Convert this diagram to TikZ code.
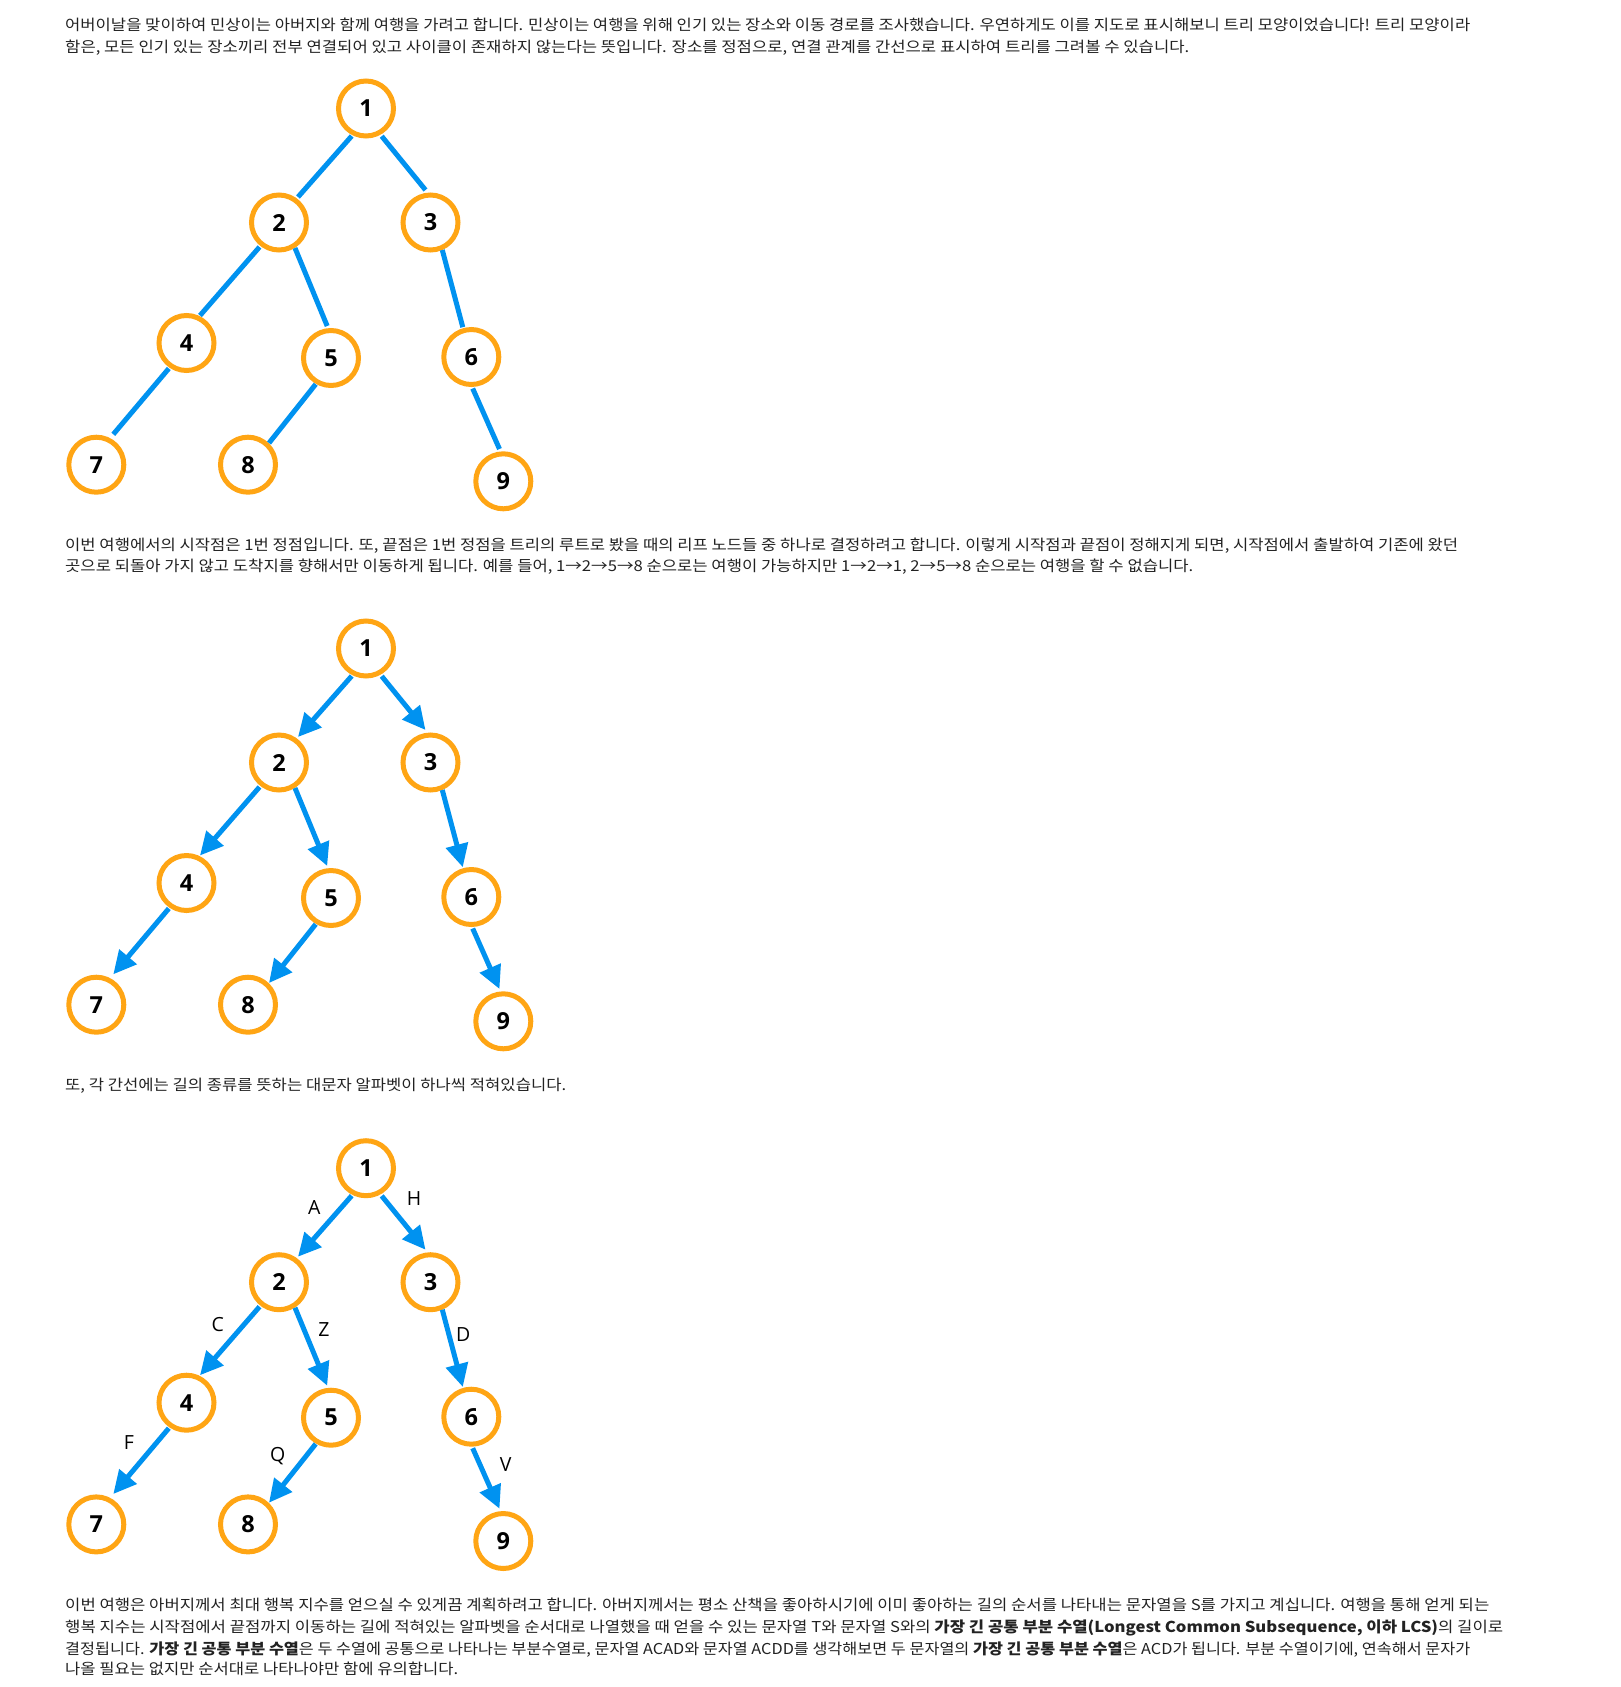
\documentclass[tikz,border=0pt]{standalone}
\usepackage{fontspec}
\usepackage{graphicx}
\usetikzlibrary{arrows.meta,calc}
\setmainfont{Noto Sans CJK KR}
\newfontfamily\numfont{Open Sans}
\definecolor{nodeorange}{RGB}{255,165,20}
\definecolor{edgeblue}{RGB}{0,146,240}
\definecolor{txtcol}{RGB}{34,34,34}
\tikzset{
  vtx/.style={circle, draw=nodeorange, line width=5pt, minimum size=55pt, inner sep=0pt, fill=white, text=black, font=\numfont\bfseries\fontsize{23.5}{23.5}\selectfont},
  plainedge/.style={draw=edgeblue, line width=5pt},
  arrowedge/.style={draw=edgeblue, line width=5pt, -{Triangle[length=23pt,width=22pt]}},
  elabel/.style={inner sep=0pt, text=black, font=\numfont\fontsize{19.5}{19.5}\selectfont},
  txtline/.style={anchor=base west, inner sep=0pt, text=txtcol, font=\fontsize{15}{15}\selectfont}
}
\newcommand\mytree[3]{%
  \begin{scope}[shift={(0,#2)}]
    \node[vtx] (#1v1) at (366,108.5) {1};
    \node[vtx] (#1v2) at (279,222.5) {2};
    \node[vtx] (#1v3) at (430.5,222.5) {3};
    \node[vtx] (#1v4) at (186.5,343) {4};
    \node[vtx] (#1v5) at (331,358) {5};
    \node[vtx] (#1v6) at (471.3,357) {6};
    \node[vtx] (#1v7) at (96.3,464.7) {7};
    \node[vtx] (#1v8) at (248,464.7) {8};
    \node[vtx] (#1v9) at (503.3,481.3) {9};
    \draw[#3] ($(#1v1)+(-14.3,27.5)$) -- ($(#1v2)+(19,-25.5)$);
    \draw[#3] ($(#1v1)+(15.7,27.7)$) -- ($(#1v3)+(-5,-32.5)$);
    \draw[#3] ($(#1v2)+(-19.5,24.5)$) -- ($(#1v4)+(13.5,-27.5)$);
    \draw[#3] ($(#1v2)+(16,25.5)$) -- ($(#1v5)+(-3.8,-32)$);
    \draw[#3] ($(#1v3)+(11.8,27.5)$) -- ($(#1v6)+(-8.5,-29.8)$);
    \draw[#3] ($(#1v4)+(-17.7,25.5)$) -- ($(#1v7)+(17,-30.4)$);
    \draw[#3] ($(#1v5)+(-15.3,26.2)$) -- ($(#1v8)+(21,-21.7)$);
    \draw[#3] ($(#1v6)+(1.4,31.5)$) -- ($(#1v9)+(-3.8,-32.3)$);
  \end{scope}}
\begin{document}
\begin{tikzpicture}[x=1pt,y=-1pt]
\useasboundingbox (0,0) rectangle (1621,1687);
\fill[white] (0,0) rectangle (1621,1687);

% paragraph 1
\node[txtline] (p1a) at (65,30.5) {\resizebox{1405pt}{\height}{어버이날을 맞이하여 민상이는 아버지와 함께 여행을 가려고 합니다. 민상이는 여행을 위해 인기 있는 장소와 이동 경로를 조사했습니다. 우연하게도 이를 지도로 표시해보니 트리 모양이었습니다! 트리 모양이라}};
\node[txtline] (p1b) at (65,52) {\resizebox{1124pt}{\height}{함은, 모든 인기 있는 장소끼리 전부 연결되어 있고 사이클이 존재하지 않는다는 뜻입니다. 장소를 정점으로, 연결 관계를 간선으로 표시하여 트리를 그려볼 수 있습니다.}};

\mytree{a}{0}{plainedge}

% paragraph 2
\node[txtline] (p2a) at (65,550) {\resizebox{1393pt}{\height}{이번 여행에서의 시작점은 1번 정점입니다. 또, 끝점은 1번 정점을 트리의 루트로 봤을 때의 리프 노드들 중 하나로 결정하려고 합니다. 이렇게 시작점과 끝점이 정해지게 되면, 시작점에서 출발하여 기존에 왔던}};
\node[txtline] (p2b) at (65,571.5) {\resizebox{1128pt}{\height}{곳으로 되돌아 가지 않고 도착지를 향해서만 이동하게 됩니다. 예를 들어, 1→2→5→8 순으로는 여행이 가능하지만 1→2→1, 2→5→8 순으로는 여행을 할 수 없습니다.}};

\mytree{b}{540}{arrowedge}

% paragraph 3
\node[txtline] (p3a) at (65,1090) {\resizebox{501pt}{\height}{또, 각 간선에는 길의 종류를 뜻하는 대문자 알파벳이 하나씩 적혀있습니다.}};

\mytree{c}{1059.7}{arrowedge}

% edge labels
\node[elabel] (lA) at (314.3,1207.7) {A};
\node[elabel] (lH) at (414,1198.3) {H};
\node[elabel] (lC) at (217.7,1324.3) {C};
\node[elabel] (lZ) at (324,1330) {Z};
\node[elabel] (lD) at (463.3,1335) {D};
\node[elabel] (lF) at (129,1442.3) {F};
\node[elabel] (lQ) at (277.7,1456.5) {Q};
\node[elabel] (lV) at (505.7,1464.3) {V};

% paragraph 4
\node[txtline] (p4a) at (65,1610.7) {\resizebox{1424pt}{\height}{이번 여행은 아버지께서 최대 행복 지수를 얻으실 수 있게끔 계획하려고 합니다. 아버지께서는 평소 산책을 좋아하시기에 이미 좋아하는 길의 순서를 나타내는 문자열을 S를 가지고 계십니다. 여행을 통해 얻게 되는}};
\node[txtline] (p4b) at (65,1632.4) {\resizebox{1438pt}{\height}{행복 지수는 시작점에서 끝점까지 이동하는 길에 적혀있는 알파벳을 순서대로 나열했을 때 얻을 수 있는 문자열 T와 문자열 S와의 \textbf{가장 긴 공통 부분 수열(Longest Common Subsequence, 이하 LCS)}의 길이로}};
\node[txtline] (p4c) at (65,1654) {\resizebox{1405pt}{\height}{결정됩니다. \textbf{가장 긴 공통 부분 수열}은 두 수열에 공통으로 나타나는 부분수열로, 문자열 ACAD와 문자열 ACDD를 생각해보면 두 문자열의 \textbf{가장 긴 공통 부분 수열}은 ACD가 됩니다. 부분 수열이기에, 연속해서 문자가}};
\node[txtline] (p4d) at (65,1674) {\resizebox{393pt}{\height}{나올 필요는 없지만 순서대로 나타나야만 함에 유의합니다.}};
\end{tikzpicture}
\end{document}
